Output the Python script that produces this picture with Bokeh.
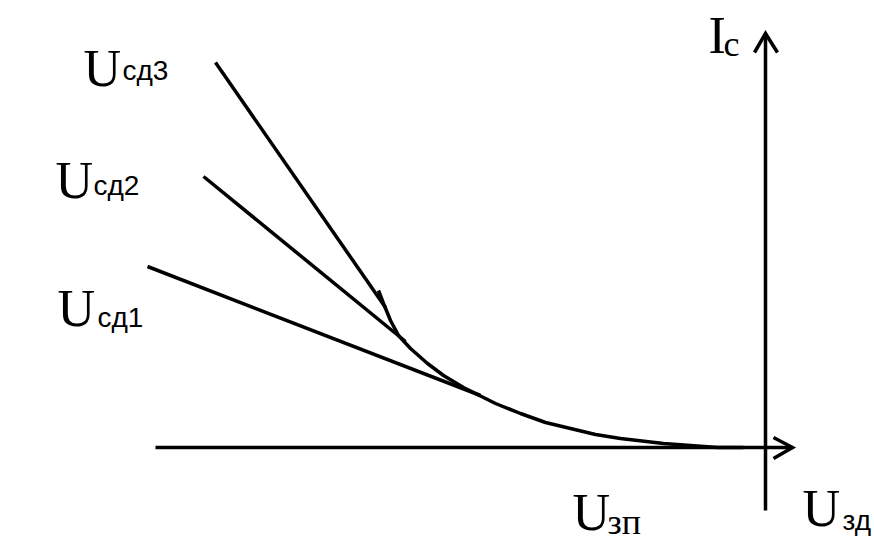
from bokeh.plotting import figure
from bokeh.models import Range1d
from bokeh.core.properties import value
from bokeh.embed import file_html
from bokeh.resources import INLINE

# Transfer characteristic Ic(Uзи) of a field-effect transistor (schematic units)
curve_u = [-3.87, -3.82, -3.75, -3.67, -3.55, -3.38, -3.22, -3.02, -2.70, -2.45,
           -2.20, -1.95, -1.70, -1.45, -1.02, -0.75, -0.48, -0.22]
curve_i = [1.57, 1.44, 1.27, 1.12, 0.99, 0.84, 0.72, 0.60, 0.44, 0.34,
           0.25, 0.19, 0.13, 0.09, 0.04, 0.02, 0.00, 0.00]

# Tangent lines for drain voltages Uсд1, Uсд2, Uсд3
tangent_names = ["сд1", "сд2", "сд3"]
tangent_u = [[-6.18, -2.85], [-5.62, -3.60], [-5.50, -3.80]]
tangent_i = [[1.81, 0.52], [2.71, 1.06], [3.85, 1.40]]

# Axes
xaxis_u = [-6.10, 0.27]
xaxis_i = [0.0, 0.0]
xarrow_u = [0.08, 0.27, 0.08]
xarrow_i = [0.10, 0.0, -0.11]
yaxis_u = [0.0, 0.0]
yaxis_i = [-0.63, 4.14]
yarrow_u = [-0.11, 0.0, 0.12]
yarrow_i = [3.95, 4.14, 3.95]

# Labels: main letter + subscript
main_text = ["U", "U", "U", "I", "U", "U"]
main_x = [-6.82, -7.10, -7.08, -0.57, -1.93, 0.37]
main_y = [3.79, 2.67, 1.39, 4.12, -0.65, -0.61]
sub_sans_text = ["сд3", "сд2", "сд1", "зд"]
sub_sans_x = [-6.43, -6.72, -6.68, 0.77]
sub_sans_y = [3.77, 2.62, 1.30, -0.73]
sub_serif_text = ["c", "зп"]
sub_serif_x = [-0.42, -1.58]
sub_serif_y = [4.04, -0.74]

p = figure(width=874, height=544, output_backend="svg", toolbar_location=None,
           x_range=Range1d(-7.65, 1.09), y_range=Range1d(-0.97, 4.47),
           min_border=0)
p.xaxis.visible = False
p.yaxis.visible = False
p.grid.visible = False
p.outline_line_color = None
p.background_fill_color = "white"
p.border_fill_color = "white"

lw = 3.5
p.line(xaxis_u, xaxis_i, line_color="black", line_width=lw)
p.line(xarrow_u, xarrow_i, line_color="black", line_width=lw, line_join="miter")
p.line(yaxis_u, yaxis_i, line_color="black", line_width=lw)
p.line(yarrow_u, yarrow_i, line_color="black", line_width=lw, line_join="miter")

p.multi_line(tangent_u, tangent_i, line_color="black", line_width=lw)
p.line(curve_u, curve_i, line_color="black", line_width=lw, line_join="round")

serif = value("Liberation Serif")
sans = value("Liberation Sans")

p.text(main_x, main_y, text=main_text, text_font=serif, text_font_size="52px",
       text_color="black", text_align="left", text_baseline="alphabetic")
p.text(sub_sans_x, sub_sans_y, text=sub_sans_text, text_font=sans,
       text_font_size="28px", text_color="black", text_align="left",
       text_baseline="alphabetic")
p.text(sub_serif_x, sub_serif_y, text=sub_serif_text, text_font=serif,
       text_font_size="36px", text_color="black", text_align="left",
       text_baseline="alphabetic")

open("out.html", "w").write(file_html(p, INLINE))
